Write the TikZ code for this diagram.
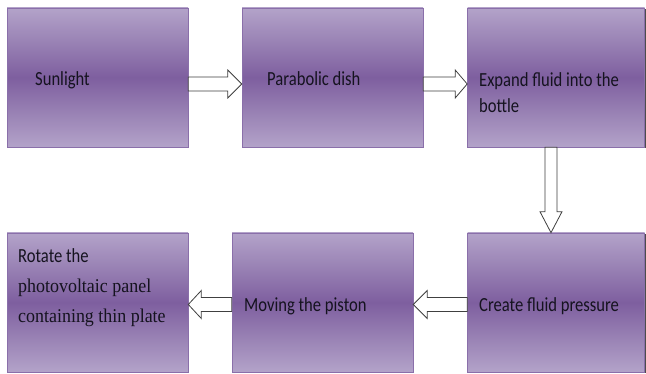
\documentclass[tikz,border=0pt]{standalone}
\usepackage{fontspec}
\setmainfont[FakeStretch=0.83]{Carlito}
\newfontfamily\serifalt[FakeStretch=0.92]{Liberation Serif}
\usetikzlibrary{calc,shadows}
\definecolor{lite}{HTML}{B3A3C9}
\definecolor{deep}{HTML}{7E5F9F}
\definecolor{edge}{HTML}{8A6FAA}
\definecolor{ink}{HTML}{15131F}
\tikzset{
  procbox/.style={draw=edge, line width=0.6pt, top color=lite, bottom color=lite, middle color=deep,
    minimum width=181pt, minimum height=139pt, inner sep=0pt,
    general shadow={fill=black!70, shadow xshift=1.4pt, shadow yshift=-1.4pt}},
  lbl/.style={anchor=base west, inner sep=0pt, text=ink, font=\fontsize{20}{26}\selectfont},
  blk/.style={draw=black!75, line width=0.8pt, fill=white, line join=miter}
}
\begin{document}
\begin{tikzpicture}[x=1pt,y=1pt]
\useasboundingbox[fill=white] (0,0) rectangle (646,374);
% boxes
\node[procbox] (b1) at (97.5,296.5) {};
\node[procbox] (b2) at (332.5,296.5) {};
\node[procbox, minimum width=177pt] (b3) at (556,296.5) {};
\node[procbox] (b4) at (97.5,71.5) {};
\node[procbox] (b5) at (322.5,71.5) {};
\node[procbox, minimum width=177pt] (b6) at (556,71.5) {};
% labels
\node[lbl] (t1) at (35,288) {Sunlight};
\node[lbl] (t2) at (267,288) {Parabolic dish};
\node[lbl, align=left] (t3) at (479,261) {Expand fluid into the\\bottle};
\node[lbl, align=left, font=\fontsize{20}{30}\selectfont] (t4) at (18,51) {Rotate the\\{\serifalt\fontsize{19.5}{30}\selectfont photovoltaic panel}\\{\serifalt\fontsize{19.5}{30}\selectfont containing thin plate}};
\node[lbl] (t5) at (244,62) {Moving the piston};
\node[lbl] (t6) at (479,62) {Create fluid pressure};
% arrows
\draw[blk] let \p1=(b1.east), \p2=(b2.west), \n1={\y1-6.5pt} in
  (\x1,\n1+7pt) -- (\x2-14pt,\n1+7pt) -- (\x2-14pt,\n1+14pt) -- (\x2,\n1)
  -- (\x2-14pt,\n1-14pt) -- (\x2-14pt,\n1-7pt) -- (\x1,\n1-7pt) -- cycle;
\draw[blk] let \p1=(b2.east), \p2=(b3.west), \n1={\y1-6.5pt} in
  (\x1,\n1+7pt) -- (\x2-12pt,\n1+7pt) -- (\x2-12pt,\n1+14pt) -- (\x2,\n1)
  -- (\x2-12pt,\n1-14pt) -- (\x2-12pt,\n1-7pt) -- (\x1,\n1-7pt) -- cycle;
\draw[blk] let \p1=(b3.south), \p2=(b6.north), \n1={\x1-5pt} in
  (\n1-6pt,\y1) -- (\n1-6pt,\y2+21pt) -- (\n1-11pt,\y2+21pt) -- (\n1,\y2)
  -- (\n1+11pt,\y2+21pt) -- (\n1+6pt,\y2+21pt) -- (\n1+6pt,\y1) -- cycle;
\draw[blk] let \p1=(b6.west), \p2=(b5.east), \n1={\y1-2pt} in
  (\x1,\n1+7pt) -- (\x2+14pt,\n1+7pt) -- (\x2+14pt,\n1+14pt) -- (\x2,\n1)
  -- (\x2+14pt,\n1-14pt) -- (\x2+14pt,\n1-7pt) -- (\x1,\n1-7pt) -- cycle;
\draw[blk] let \p1=(b5.west), \p2=(b4.east), \n1={\y1-2pt} in
  (\x1,\n1+7pt) -- (\x2+13pt,\n1+7pt) -- (\x2+13pt,\n1+14pt) -- (\x2,\n1)
  -- (\x2+13pt,\n1-14pt) -- (\x2+13pt,\n1-7pt) -- (\x1,\n1-7pt) -- cycle;
\end{tikzpicture}
\end{document}
